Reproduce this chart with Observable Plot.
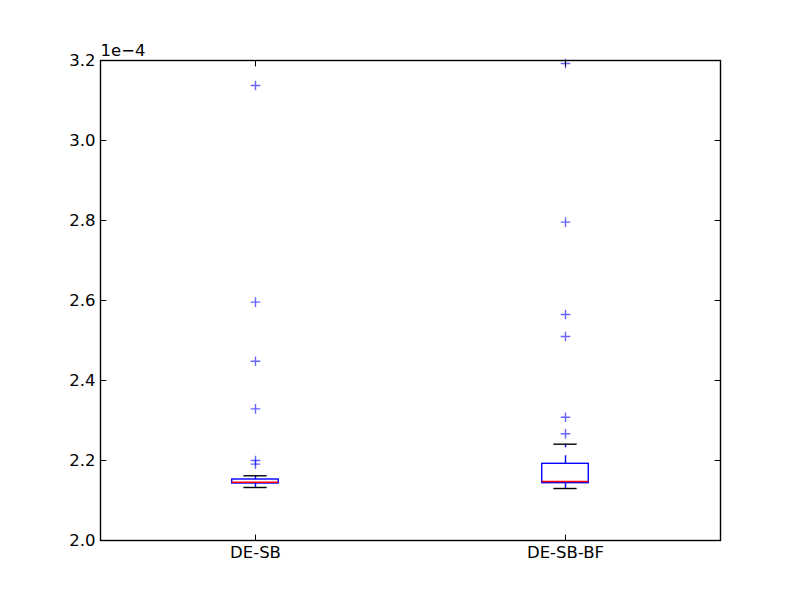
<!DOCTYPE html>
<html>
<head>
<meta charset="utf-8">
<script src="https://cdn.jsdelivr.net/npm/d3@7"></script>
<script src="https://cdn.jsdelivr.net/npm/@observablehq/plot@0.6"></script>
<style>
  html, body { margin: 0; padding: 0; background: #fff; }
</style>
</head>
<body>
<div id="chart"></div>
<script>
// Data (values in absolute units; axis shows ×1e-4)
const categories = ["DE-SB", "DE-SB-BF"];
const whiskerLow  = [2.1325e-4, 2.1300e-4];
const q1          = [2.1425e-4, 2.1433e-4];
const median      = [2.1458e-4, 2.1475e-4];
const q3          = [2.1525e-4, 2.1917e-4];
const whiskerHigh = [2.1618e-4, 2.2408e-4];
const outliersDESB   = [2.191e-4, 2.200e-4, 2.329e-4, 2.448e-4, 2.596e-4, 3.1375e-4];
const outliersDESBBF = [2.2667e-4, 2.308e-4, 2.510e-4, 2.565e-4, 2.796e-4, 3.1925e-4];
const yTicks = [2.0e-4, 2.2e-4, 2.4e-4, 2.6e-4, 2.8e-4, 3.0e-4, 3.2e-4];
const exponentLabel = "1e\u22124";

const boxes = categories.map((c, i) => ({
  x: i + 1, lo: whiskerLow[i], q1: q1[i], med: median[i], q3: q3[i], hi: whiskerHigh[i]
}));
const outlierSets = [outliersDESB, outliersDESBBF];
const outliers = outlierSets.flatMap((arr, i) => arr.map(v => ({x: i + 1, y: v})));

const boxHalf = 0.075, capHalf = 0.0375;
const tickShape = {draw(context, l) { context.moveTo(0, 0); context.lineTo(0, -l); }};
const tickLen = 5.5;
const lw = 1.4;

const chart = Plot.plot({
  width: 800,
  height: 600,
  marginLeft: 100,
  marginRight: 80,
  marginTop: 60,
  marginBottom: 60,
  style: {fontFamily: "DejaVu Sans", fontSize: "16.5px", background: "#fff", color: "#000"},
  x: {type: "linear", domain: [0.5, 2.5], label: null},
  y: {type: "linear", domain: [2.0e-4, 3.2e-4], label: null},
  marks: [
    Plot.axisY(yTicks, {tickSize: 0, tickPadding: 5, tickFormat: d => (d * 1e4).toFixed(1), fontSize: 16.5, label: null}),
    Plot.axisX([1, 2], {tickSize: 0, tickPadding: 6, tickFormat: d => categories[d - 1], fontSize: 16.5, label: null}),
    // whiskers
    Plot.ruleX(boxes, {x: "x", y1: "q3", y2: "hi", stroke: "blue", strokeWidth: lw, strokeDasharray: "8,8"}),
    Plot.ruleX(boxes, {x: "x", y1: "q1", y2: "lo", stroke: "blue", strokeWidth: lw, strokeDasharray: "8,8"}),
    // caps
    Plot.ruleY(boxes, {y: "hi", x1: d => d.x - capHalf, x2: d => d.x + capHalf, stroke: "#000", strokeWidth: lw}),
    Plot.ruleY(boxes, {y: "lo", x1: d => d.x - capHalf, x2: d => d.x + capHalf, stroke: "#000", strokeWidth: lw}),
    // boxes
    Plot.rect(boxes, {x1: d => d.x - boxHalf, x2: d => d.x + boxHalf, y1: "q1", y2: "q3", stroke: "blue", strokeWidth: lw, fill: "none"}),
    // medians
    Plot.ruleY(boxes, {y: "med", x1: d => d.x - boxHalf, x2: d => d.x + boxHalf, stroke: "red", strokeWidth: lw}),
    // outliers
    Plot.dot(outliers, {x: "x", y: "y", symbol: "plus", r: 3.2, stroke: "blue", strokeOpacity: 0.6, strokeWidth: lw}),
    // frame and inward ticks
    Plot.frame({stroke: "#000", strokeWidth: lw}),
    Plot.vector(yTicks, {y: d => d, frameAnchor: "left", rotate: 90, anchor: "start", length: tickLen, shape: tickShape, stroke: "#000", strokeWidth: 1}),
    Plot.vector(yTicks, {y: d => d, frameAnchor: "right", rotate: -90, anchor: "start", length: tickLen, shape: tickShape, stroke: "#000", strokeWidth: 1}),
    Plot.vector([1, 2], {x: d => d, frameAnchor: "bottom", rotate: 0, anchor: "start", length: tickLen, shape: tickShape, stroke: "#000", strokeWidth: 1}),
    Plot.vector([1, 2], {x: d => d, frameAnchor: "top", rotate: 180, anchor: "start", length: tickLen, shape: tickShape, stroke: "#000", strokeWidth: 1}),
    // exponent label
    Plot.text([exponentLabel], {frameAnchor: "top-left", textAnchor: "start", lineAnchor: "bottom", dy: -5, fontSize: 16.5, fill: "#000"})
  ]
});
document.getElementById("chart").appendChild(chart);
</script>
</body>
</html>
